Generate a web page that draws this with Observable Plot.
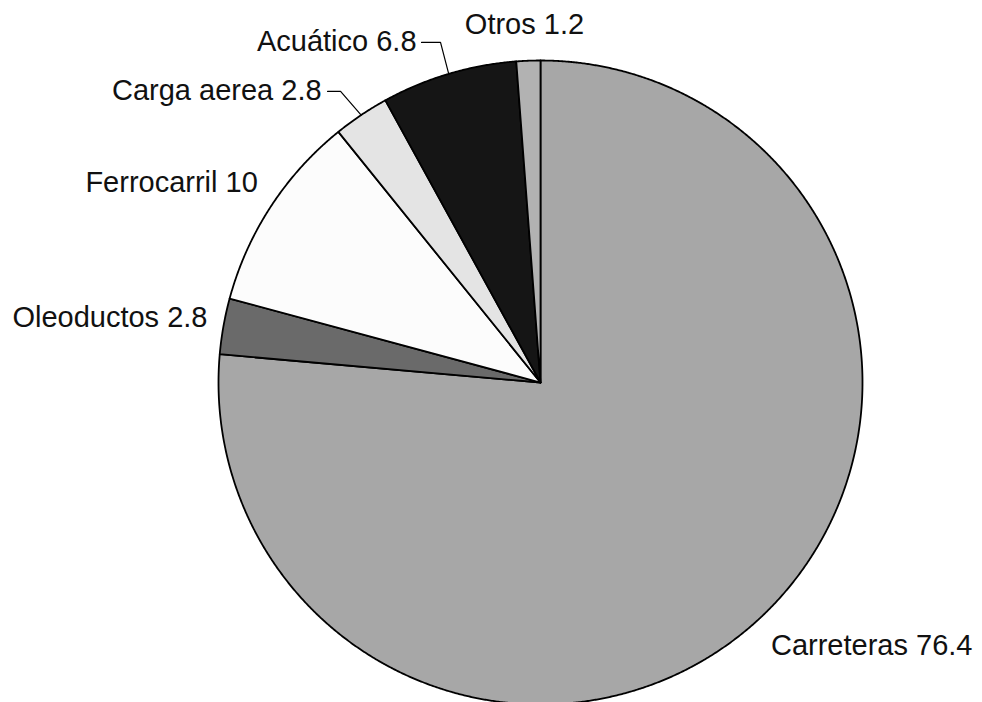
<!DOCTYPE html>
<html><head><meta charset="utf-8">
<script src="https://cdn.jsdelivr.net/npm/d3@7"></script>
<script src="https://cdn.jsdelivr.net/npm/@observablehq/plot@0.6"></script>
<style>html,body{margin:0;padding:0;background:#fff}#chart{width:982px;height:702px;overflow:hidden}</style>
</head><body><div id="chart"></div>
<script>
// ---- data ----
const categories = ["Carreteras", "Oleoductos", "Ferrocarril", "Carga aerea", "Acuático", "Otros"];
const values = [76.4, 2.8, 10, 2.8, 6.8, 1.2];

// ---- styles ----
const fills = ["#a7a7a7", "#6a6a6a", "#fcfcfc", "#e4e4e4", "#151515", "#b2b2b2"];

// ---- layout ----
const W = 982, H = 702, CX = 540, CY = 382, R = 322;
// label placement relative to each slice's mid-angle point on the rim (pixels)
const labelLayout = [
  {anchor: "start",  dx: 13,   dy: 25.5},
  {anchor: "end",    dx: -16,  dy: -8.6},
  {anchor: "end",    dx: -13,  dy: -24},
  {anchor: "end",    dx: -39.6, dy: -24.6, leader: [[-20.6, -23.6], [-33.6, -23.6]]},
  {anchor: "end",    dx: -32.2, dy: -32.4, leader: [[-8.2, -31.4], [-27.2, -31.4]]},
  {anchor: "middle", dx: -3.9, dy: -36.2}
];

const arcs = d3.pie().sort(null).value(d => d)(values);
const slicePts = arcs.map(p => {
  const pts = [{x: 0, y: 0}];
  const n = Math.max(2, Math.ceil((p.endAngle - p.startAngle) / 0.004));
  for (let k = 0; k <= n; k++) {
    const a = p.startAngle + (p.endAngle - p.startAngle) * k / n;
    pts.push({x: Math.sin(a), y: Math.cos(a)});
  }
  pts.push({x: 0, y: 0});
  return pts;
});

const marks = [];
slicePts.forEach((pts, i) => {
  marks.push(Plot.line(pts, {x: "x", y: "y", fill: fills[i], stroke: "#000", strokeWidth: 1.8, strokeLinejoin: "round", curve: "linear"}));
});
arcs.forEach((p, i) => {
  const m = (p.startAngle + p.endAngle) / 2;
  const ex = Math.sin(m), ey = Math.cos(m);
  const L = labelLayout[i];
  if (L.leader) {
    const pts = [{x: ex, y: ey}].concat(L.leader.map(([ox, oy]) => ({x: ex + ox / R, y: ey - oy / R})));
    marks.push(Plot.line(pts, {x: "x", y: "y", stroke: "#000", strokeWidth: 1.2}));
  }
  marks.push(Plot.text([{x: ex, y: ey, t: categories[i] + " " + values[i]}], {
    x: "x", y: "y", text: "t", textAnchor: L.anchor, lineAnchor: "middle",
    dx: L.dx, dy: L.dy, fontSize: 29, fill: "#111"
  }));
});

const chart = Plot.plot({
  width: W, height: H, margin: 0,
  x: {domain: [-CX / R, (W - CX) / R], axis: null},
  y: {domain: [(CY - H) / R, CY / R], axis: null},
  style: {fontFamily: "'Liberation Sans', Arial, sans-serif", background: "#fff", overflow: "visible"},
  marks
});
document.getElementById("chart").appendChild(chart);
</script>
</body></html>
